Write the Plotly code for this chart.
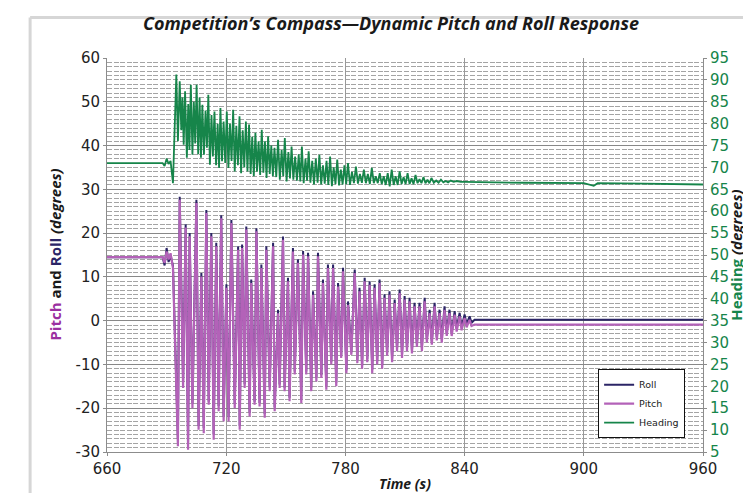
import plotly.graph_objects as go

# ---------------- data ----------------
pitch_t = [660, 688, 689, 690, 691, 692, 693.2,
           695.7, 696.6, 698.3, 699.6, 700.8, 701.6, 703.0, 705.0, 706.1, 707.5,
           708.7, 710.0, 711.2, 712.5, 713.7, 715.0, 716.2, 717.5, 718.7, 720.1,
           721.2, 722.6, 724.3, 726.0, 726.8, 728.0, 729.3, 730.1, 731.8, 732.6,
           734.3, 735.2, 736.8, 737.7, 739.4, 740.2, 741.9, 743.6, 744.4, 746.1,
           746.9, 748.6, 749.4, 751.1, 751.9, 753.6, 754.5, 756.1, 757.8, 758.7,
           760.3, 761.2, 762.8, 763.7, 765.4, 766.2, 767.9, 768.7, 770.4, 771.2,
           772.9, 773.8, 775.4, 776.3, 777.9, 778.8, 780.5, 781.3, 783.0, 784.7,
           786.0, 787.1, 788.4, 789.7, 791.0, 792.2, 793.5, 794.7, 796.0, 797.2,
           798.5, 799.7, 801.0, 802.2, 803.5, 804.8, 806.0, 807.3, 808.5, 809.8,
           811.0, 812.3, 813.5, 814.8, 816.0, 817.3, 818.5, 819.9, 821.0, 822.4,
           823.5, 824.9, 826.0, 827.4, 828.5, 829.9, 831.0, 832.4, 833.5, 835.0,
           836.0, 837.5, 838.5, 840.0, 841.0, 842.5, 843.5, 845, 960]
pitch_deg = [14.5, 14.5, 13.2, 15.8, 14.0, 15.4, 12.0,
             -28.7, 27.6, -15.4, 21.3, -29.5, 19.3, -20.0, 26.9, -24.9, 10.1,
             -25.7, 24.6, -19.2, 19.3, -27.2, 17.0, -20.7, 23.4, -23.0, 7.5,
             -23.0, 22.3, -20.0, 16.2, -24.9, 16.6, -15.4, 20.8, -21.9, 8.6,
             -19.2, 20.4, -19.6, 12.0, -22.2, 16.2, -16.1, 17.0, -20.7, 1.7,
             -15.4, 18.5, -16.1, 9.0, -18.4, 15.8, -12.3, 13.2, -18.8, 15.1,
             -12.3, 14.7, -16.1, 5.9, -13.9, 14.7, -13.1, 8.6, -15.8, 12.0,
             -10.0, 12.0, -15.0, 7.8, -8.5, 11.3, -12.0, 3.6, -7.8, 10.9,
             -9.7, 6.7, -11.0, 9.0, -9.5, 8.2, -12.0, 7.5, -10.0, 8.6,
             -11.0, 5.2, -8.0, 5.9, -9.5, 4.0, -7.0, 6.3, -8.5, 4.8,
             -7.0, 4.4, -7.5, 3.3, -6.0, 3.3, -7.0, 4.4, -5.0, 1.7,
             -5.5, 3.3, -4.5, 1.7, -5.0, 2.5, -3.5, 1.7, -3.5, 1.4,
             -2.5, 1.0, -2.2, 0.6, -1.5, 0.2, -1.2, -0.9, -0.9]
roll_deg = [14.5, 14.5, 12.6, 16.6, 13.4, 15.0, 12.5,
            -27.0, 28.3, -14.0, 22.0, -28.0, 20.0, -19.0, 27.6, -24.0, 10.9,
            -24.5, 25.3, -18.5, 20.0, -26.0, 17.8, -19.5, 24.1, -22.0, 8.3,
            -22.0, 23.0, -19.0, 17.0, -24.0, 17.4, -14.5, 21.5, -21.0, 9.4,
            -18.5, 21.1, -18.8, 12.8, -21.3, 17.0, -15.2, 17.8, -19.8, 2.5,
            -14.6, 19.2, -15.3, 9.8, -17.6, 16.6, -11.6, 14.0, -18.0, 15.9,
            -11.6, 15.5, -15.3, 6.7, -13.1, 15.5, -12.4, 9.4, -15.0, 12.8,
            -9.4, 12.8, -14.2, 8.6, -7.9, 12.1, -11.3, 4.4, -7.2, 11.7,
            -9.0, 7.5, -10.3, 9.8, -8.8, 9.0, -11.2, 8.3, -9.3, 9.4,
            -10.2, 6.0, -7.3, 6.7, -8.7, 4.8, -6.3, 7.1, -7.8, 5.6,
            -6.3, 5.2, -6.8, 4.1, -5.3, 4.1, -6.2, 5.2, -4.3, 2.5,
            -4.8, 4.1, -3.8, 2.5, -4.2, 3.3, -2.8, 2.5, -2.8, 2.2,
            -1.8, 1.8, -1.5, 1.4, -0.8, 1.0, -0.5, 0.2, 0.2]

heading_t = [660, 688, 689, 690, 691, 692, 693.2, 694.9,
             695.7, 696.6, 697.4, 698.0, 698.6, 699.3, 700.2, 700.9, 701.5, 702.2,
             703.0, 703.7, 704.4, 705.1, 705.9, 706.6, 707.3, 708.0, 708.8, 709.6,
             710.3, 711.0, 711.8, 712.6, 713.3, 714.1, 714.9, 715.7, 716.4, 717.1,
             717.9, 718.7, 719.5, 720.3, 721.1, 721.9, 722.7, 723.5, 724.3, 725.1,
             725.9, 726.7, 727.5, 728.3, 729.1, 729.9, 730.7, 731.5, 732.3, 733.1,
             733.9, 734.7, 735.5, 736.3, 737.1, 737.9, 738.7, 739.5, 740.3, 741.1,
             741.9, 742.7, 743.5, 744.3, 745.2, 746.1, 747.0, 747.9, 748.7, 749.5,
             750.4, 751.3, 752.1, 752.9, 753.8, 754.7, 755.6, 756.5, 757.3, 758.1,
             759.0, 759.9, 760.7, 761.5, 762.4, 763.3, 764.2, 765.1, 766.0, 766.9,
             767.8, 768.7, 769.6, 770.5, 771.4, 772.3, 773.2, 774.1, 775.0, 775.9,
             776.8, 777.7, 778.6, 779.5, 780.4, 781.3, 782.3, 783.3, 784.3, 785.3,
             786.3, 787.3, 788.3, 789.3, 790.3, 791.3, 792.3, 793.3, 794.3, 795.3,
             796.3, 797.3, 798.3, 799.3, 800.3, 801.3, 802.3, 803.3, 804.3, 805.3,
             806.3, 807.3, 808.3, 809.3, 810.3, 811.3, 812.3, 813.3, 814.3, 815.3,
             816.3, 817.3, 818.3, 819.3, 820.3, 821.3, 822.3, 823.3, 824.5, 825.7,
             826.9, 828.1, 829.3, 830.5, 831.7, 833.0, 834.5, 836.0, 838.0, 840.0,
             870.0, 900.0, 905.0, 907.0, 930.0, 960.0]
heading_deg = [71.0, 71.0, 70.3, 72.0, 70.8, 71.5, 66.4, 91.2,
               76.0, 89.7, 78.5, 86.0, 75.2, 87.4, 72.2, 84.5, 74.0, 88.9,
               72.9, 85.0, 75.5, 88.9, 73.0, 86.0, 72.2, 84.3, 72.9, 83.0,
               74.5, 86.6, 70.6, 82.0, 72.5, 82.8, 70.5, 80.0, 69.9, 83.6,
               71.4, 80.5, 71.0, 82.8, 69.9, 80.0, 71.5, 83.2, 69.1, 79.5,
               70.5, 81.7, 68.7, 78.5, 70.0, 80.5, 69.1, 79.8, 68.5, 77.0,
               68.0, 77.9, 69.0, 76.0, 68.3, 78.6, 68.8, 76.0, 67.6, 77.1,
               68.5, 75.0, 68.0, 74.5, 67.8, 76.3, 67.2, 74.0, 68.0, 76.7,
               66.8, 73.5, 67.5, 74.8, 67.2, 72.5, 67.0, 73.0, 66.8, 74.8,
               66.4, 72.0, 67.0, 73.7, 66.5, 71.5, 66.1, 72.0, 66.5, 72.9,
               66.1, 70.5, 66.3, 71.5, 66.0, 72.5, 65.7, 70.0, 66.2, 71.8,
               65.9, 69.5, 66.1, 70.5, 66.2, 71.0, 66.0, 69.0, 66.4, 70.2,
               66.3, 68.5, 66.5, 69.5, 66.4, 68.5, 66.2, 69.9, 66.4, 68.0,
               66.4, 68.7, 66.2, 68.0, 66.0, 68.7, 65.7, 69.5, 66.0, 68.0,
               66.0, 69.1, 66.2, 67.8, 66.2, 68.7, 66.2, 67.5, 66.2, 68.3,
               66.4, 67.3, 66.4, 67.8, 66.4, 67.2, 66.4, 67.6, 66.5, 67.0,
               66.5, 67.2, 66.6, 66.9, 66.6, 67.0, 66.7, 66.9, 66.7, 66.7,
               66.5, 66.4, 65.8, 66.4, 66.3, 66.1]

x_ticks = [660, 720, 780, 840, 900, 960]
left_ticks = [-30, -20, -10, 0, 10, 20, 30, 40, 50, 60]
left_labels = ["-30", "-20", "-10", "0", "10", "20", "30", "40", "50", "60"]
right_ticks = [5, 10, 15, 20, 25, 30, 35, 40, 45, 50, 55, 60, 65, 70, 75, 80, 85, 90, 95]

# ---------------- styling ----------------
ROLL_C = "#2b2566"
PITCH_C = "#b362b8"
HEAD_C = "#16854a"
FONT = "DejaVu Sans"

fig = go.Figure()
fig.add_trace(go.Scatter(x=pitch_t, y=roll_deg, name="Roll", mode="lines",
                         line=dict(color=ROLL_C, width=2.0)))
fig.add_trace(go.Scatter(x=pitch_t, y=pitch_deg, name="Pitch", mode="lines",
                         line=dict(color=PITCH_C, width=2.2)))
fig.add_trace(go.Scatter(x=heading_t, y=heading_deg, name="Heading", mode="lines",
                         line=dict(color=HEAD_C, width=1.8), yaxis="y2"))

fig.update_layout(
    width=751, height=493,
    margin=dict(l=99, r=56, t=50, b=49),
    paper_bgcolor="white", plot_bgcolor="white",
    font=dict(family=FONT, color="#222222"),
    title=dict(text="<b><i>Competition’s Compass—Dynamic Pitch and Roll Response</i></b>",
               x=0.51, xanchor="center", y=0.968, yanchor="middle",
               font=dict(size=18, family="Open Sans", color="#1a1a1a")),
    xaxis=dict(range=[660, 960], tickvals=x_ticks, showline=True, linecolor="#8c8c8c",
               linewidth=1, mirror=False, ticks="outside", ticklen=3, tickcolor="#8c8c8c",
               showgrid=True, gridcolor="#999999", gridwidth=1, dtick=10, tick0=660,
               tickfont=dict(size=15, color="#222222"),
               title=dict(text="<b><i>Time (s)</i></b>", standoff=2,
                          font=dict(size=14, family="Open Sans", color="#1a1a1a")),
               zeroline=False),
    yaxis=dict(range=[-30, 60], tickvals=left_ticks, ticktext=left_labels,
               showline=True, linecolor="#8c8c8c",
               linewidth=1, ticks="outside", ticklen=3, tickcolor="#8c8c8c",
               showgrid=True, gridcolor="#888888", gridwidth=1,
               minor=dict(dtick=1, showgrid=True, gridcolor="#a4a4a4", gridwidth=1,
                          griddash="5px,1.6px"),
               tickfont=dict(size=15, color="#222222"), zeroline=False),
    yaxis2=dict(range=[5, 95], tickvals=right_ticks, overlaying="y", side="right",
                showline=True, linecolor="#8c8c8c", linewidth=1, ticks="outside",
                ticklen=3, tickcolor="#8c8c8c", showgrid=False, zeroline=False,
                tickfont=dict(size=15, color=HEAD_C)),
    legend=dict(x=0.97, y=0.035, xanchor="right", yanchor="bottom",
                bgcolor="white", bordercolor="#111111", borderwidth=1,
                font=dict(size=9.5, family=FONT, color="#222222"),
                itemwidth=30, tracegroupgap=0),
    showlegend=True,
)

# left axis title
fig.add_annotation(text=("<b><span style='color:#9b30a0'>Pitch</span> and "
                         "<span style='color:#2b2566'>Roll</span> <i>(degrees)</i></b>"),
                   xref="paper", yref="paper", x=-0.088, y=0.5, xanchor="center",
                   yanchor="middle", textangle=-90, showarrow=False,
                   font=dict(size=15, family="Open Sans", color="#1a1a1a"))
# right axis title (rotated, like the left one)
fig.add_annotation(text="<b><span style='color:#16854a'>Heading</span> <i>(degrees)</i></b>",
                   xref="paper", yref="paper", x=1.055, y=0.5, xanchor="center",
                   yanchor="middle", textangle=-90, showarrow=False,
                   font=dict(size=15, family="Open Sans", color="#1a1a1a"))

# light grey frame around the figure
fig.add_shape(type="line", xref="paper", yref="paper", x0=-0.129, x1=-0.129,
              y0=-0.2, y1=1.103, line=dict(color="#d6d6d6", width=3))
fig.add_shape(type="line", xref="paper", yref="paper", x0=-0.129, x1=1.2,
              y0=1.103, y1=1.103, line=dict(color="#d6d6d6", width=3))

fig.write_html("out.html")
